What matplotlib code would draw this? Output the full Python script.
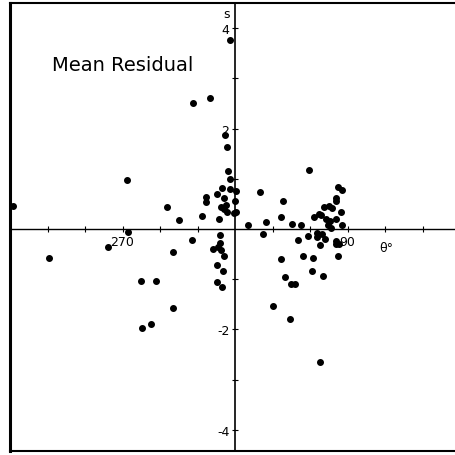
import numpy as np
import matplotlib
matplotlib.use('Agg')  # no display
import matplotlib.pyplot as plt

# residual points: theta (deg, 270 -> -90) and mean residual s
theta = [-177.4, -149.0, -101.8, -86.2, -86.0, -75.6, -74.4, -67.6, -63.6, -54.8,
         -49.8, -49.6, -44.8, -34.4, -33.4, -26.4, -23.0, -23.0, -20.2, -17.6,
         -14.2, -14.4, -14.8, -13.8, -12.8, -12.2, -12.4, -11.0, -11.0, -10.8,
         -10.4, -9.8, -9.0, -9.0, -9.0, -8.4, -7.6, -6.8, -6.6, -5.8,
         -4.2, -4.2, -4.2, -1.0, 0.8, -0.4, 1.0, 10.0, 20.2, 22.2,
         24.8, 30.4, 37.0, 37.0, 38.2, 39.8, 44.2, 44.8, 45.8, 47.8,
         50.6, 53.0, 54.2, 58.4, 58.8, 61.4, 62.4, 62.8, 65.4, 65.2,
         66.8, 67.8, 67.8, 68.6, 69.8, 70.2, 71.0, 71.6, 72.8, 74.2,
         74.8, 76.0, 76.4, 77.6, 80.4, 81.0, 80.4, 80.4, 80.8, 82.4,
         82.2, 83.4, 84.4, 85.2, 85.4]
resid = [0.45, -0.58, -0.35, 0.98, -0.05, -1.03, -1.98, -1.90, -1.04, 0.44,
         -0.46, -1.58, 0.17, -0.22, 2.50, 0.25, 0.63, 0.54, 2.61, -0.40,
         0.70, -0.71, -1.06, -0.36, 0.19, -0.11, -0.27, 0.44, -0.42, 0.82,
         -1.16, -0.84, 0.61, -0.53, 0.40, 1.88, 0.47, 1.64, 0.33, 1.15,
         1.00, 0.80, 3.76, 0.31, 0.33, 0.55, 0.75, 0.08, 0.74, -0.10,
         0.14, -1.53, 0.23, -0.59, 0.55, -0.96, -1.80, -1.09, 0.10, -1.09,
         -0.22, 0.08, -0.53, -0.14, 1.17, -0.83, -0.57, 0.24, -0.07, -0.15,
         0.29, -0.31, -2.65, 0.28, -0.10, -0.93, 0.44, -0.20, 0.19, 0.07,
         0.46, 0.15, 0.03, 0.42, 0.55, 0.62, 0.19, -0.23, -0.30, 0.83,
         -0.54, -0.30, 0.34, 0.77, 0.08]

x_ticks = [-150, -120, -90, -60, -30, 30, 60, 90, 120, 150]
x_labels = ['', '', '270', '', '', '', '', '90', '', '']
y_ticks = [-4, -3, -2, -1, 1, 2, 3, 4]
y_labels = ['-4', '', '-2', '', '', '2', '', '4']

fig = plt.figure(figsize=(4.55, 4.56), dpi=100)
pos = [10 / 455, 4 / 456, 445 / 455, 448 / 456]

# outer frame (no right side)
frame = fig.add_axes(pos)
frame.set_xticks([])
frame.set_yticks([])
frame.spines['right'].set_visible(False)
frame.spines['left'].set_linewidth(2.2)
frame.spines['top'].set_linewidth(1.5)
frame.spines['bottom'].set_linewidth(1.5)

ax = fig.add_axes(pos)
ax.patch.set_alpha(0)
ax.set_xlim(-180, 176)
ax.set_ylim(-4.42, 4.5)
ax.spines['left'].set_position(('data', 0))
ax.spines['bottom'].set_position(('data', 0))
ax.spines['right'].set_visible(False)
ax.spines['top'].set_visible(False)
ax.spines['left'].set_linewidth(1.2)
ax.spines['bottom'].set_linewidth(1.0)

ax.set_xticks(x_ticks)
ax.set_xticklabels(x_labels)
ax.set_yticks(y_ticks)
ax.set_yticklabels(y_labels)
ax.tick_params(direction='inout', length=4, width=0.8, labelsize=9, pad=2)

ax.plot(theta, resid, 'o', color='black', markersize=4, clip_on=False)

ax.text(-6.5, 4.3, 's', fontsize=9, ha='center', va='center')
ax.text(121, -0.36, 'θ°', fontsize=9, ha='center', va='center')
ax.text(-146, 3.27, 'Mean Residual', fontsize=14, ha='left', va='center')

plt.savefig('out.png', dpi=100)
plt.close()
